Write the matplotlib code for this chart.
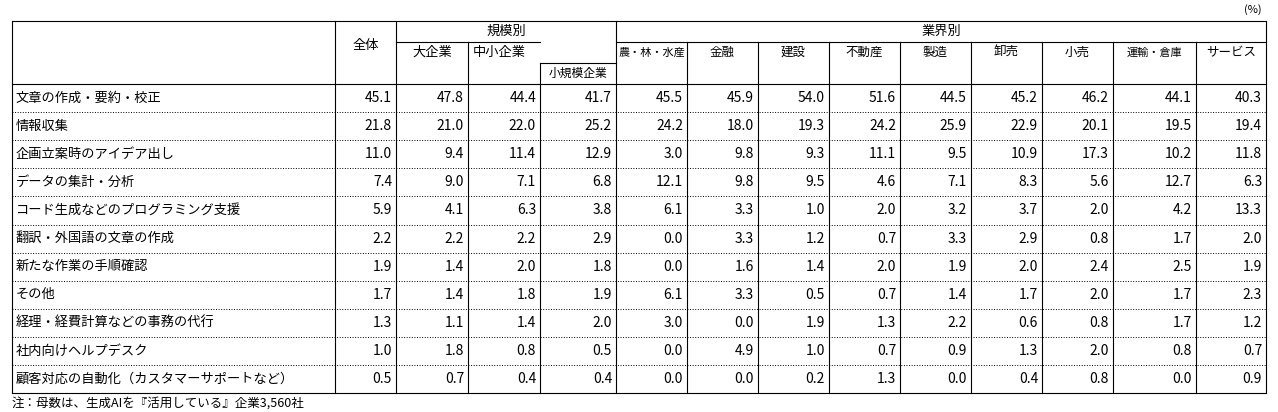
import matplotlib.pyplot as plt

plt.rcParams['font.family'] = ['Noto Sans CJK JP', 'DejaVu Sans']

# data
items = ["文章の作成・要約・校正", "情報収集", "企画立案時のアイデア出し", "データの集計・分析",
         "コード生成などのプログラミング支援", "翻訳・外国語の文章の作成", "新たな作業の手順確認",
         "その他", "経理・経費計算などの事務の代行", "社内向けヘルプデスク",
         "顧客対応の自動化（カスタマーサポートなど）"]
columns = ["全体", "大企業", "中小企業", "小規模企業", "農・林・水産", "金融", "建設", "不動産",
           "製造", "卸売", "小売", "運輸・倉庫", "サービス"]
values = [
    [45.1, 47.8, 44.4, 41.7, 45.5, 45.9, 54.0, 51.6, 44.5, 45.2, 46.2, 44.1, 40.3],
    [21.8, 21.0, 22.0, 25.2, 24.2, 18.0, 19.3, 24.2, 25.9, 22.9, 20.1, 19.5, 19.4],
    [11.0, 9.4, 11.4, 12.9, 3.0, 9.8, 9.3, 11.1, 9.5, 10.9, 17.3, 10.2, 11.8],
    [7.4, 9.0, 7.1, 6.8, 12.1, 9.8, 9.5, 4.6, 7.1, 8.3, 5.6, 12.7, 6.3],
    [5.9, 4.1, 6.3, 3.8, 6.1, 3.3, 1.0, 2.0, 3.2, 3.7, 2.0, 4.2, 13.3],
    [2.2, 2.2, 2.2, 2.9, 0.0, 3.3, 1.2, 0.7, 3.3, 2.9, 0.8, 1.7, 2.0],
    [1.9, 1.4, 2.0, 1.8, 0.0, 1.6, 1.4, 2.0, 1.9, 2.0, 2.4, 2.5, 1.9],
    [1.7, 1.4, 1.8, 1.9, 6.1, 3.3, 0.5, 0.7, 1.4, 1.7, 2.0, 1.7, 2.3],
    [1.3, 1.1, 1.4, 2.0, 3.0, 0.0, 1.9, 1.3, 2.2, 0.6, 0.8, 1.7, 1.2],
    [1.0, 1.8, 0.8, 0.5, 0.0, 4.9, 1.0, 0.7, 0.9, 1.3, 2.0, 0.8, 0.7],
    [0.5, 0.7, 0.4, 0.4, 0.0, 0.0, 0.2, 1.3, 0.0, 0.4, 0.8, 0.0, 0.9],
]

# layout in pixels
edges = [12, 335, 396, 468, 540, 616, 687, 758, 829, 900, 971, 1042, 1113, 1196, 1266]
top, h1, h2, hb = 21, 42, 63, 84
rh = 28.1
bottom = hb + rh * len(items)
fs = 9.5

fig = plt.figure(figsize=(12.78, 4.12), dpi=100)
ax = fig.add_axes([0, 0, 1, 1])
ax.set_xlim(0, 1278)
ax.set_ylim(412, 0)
ax.axis('off')

def hline(x0, x1, y, ls='-'):
    ax.plot([x0, x1], [y, y], color='black', lw=0.8 if ls == '-' else 0.7, ls=ls)

def vline(x, y0, y1):
    ax.plot([x, x], [y0, y1], color='black', lw=0.8)

# outer box and header lines
hline(edges[0], edges[-1], top)
hline(edges[0], edges[-1], hb)
hline(edges[0], edges[-1], bottom)
hline(edges[2], edges[4], h1)
hline(edges[5], edges[-1], h1)
hline(edges[4], edges[5], h2)
for i in range(1, len(items)):
    hline(edges[0], edges[-1], hb + rh * i, ls=':')

vline(edges[0], top, bottom)
vline(edges[-1], top, bottom)
vline(edges[1], top, bottom)
vline(edges[2], top, bottom)
vline(edges[5], top, bottom)
vline(edges[3], h1, bottom)
vline(edges[4], h2, bottom)
for x in edges[6:-1]:
    vline(x, h1, bottom)

# header text
ax.text((edges[1] + edges[2]) / 2, 45, columns[0], ha='center', va='center', fontsize=fs)
ax.text((edges[2] + edges[5]) / 2, (top + h1) / 2, "規模別", ha='center', va='center', fontsize=fs)
ax.text((edges[5] + edges[-1]) / 2, (top + h1) / 2, "業界別", ha='center', va='center', fontsize=fs)
ax.text((edges[2] + edges[3]) / 2, (h1 + h2) / 2, columns[1], ha='center', va='center', fontsize=fs)
ax.text(edges[3] + 5, (h1 + h2) / 2, columns[2], ha='left', va='center', fontsize=fs)
ax.text((edges[4] + edges[5]) / 2, (h2 + hb) / 2, columns[3], ha='center', va='center', fontsize=fs - 1)
for j in range(4, len(columns)):
    size = fs - 1.5 if len(columns[j]) > 4 else fs - 0.5
    ax.text((edges[j + 1] + edges[j + 2]) / 2, (h1 + h2) / 2, columns[j],
            ha='center', va='center', fontsize=size)

# body
for i, (name, row) in enumerate(zip(items, values)):
    y = hb + rh * (i + 0.5)
    ax.text(edges[0] + 4, y, name, ha='left', va='center', fontsize=fs)
    for j, v in enumerate(row):
        ax.text(edges[j + 2] - 4, y, f"{v:.1f}", ha='right', va='center', fontsize=fs + 0.5)

ax.text(1262, 10, "(%)", ha='right', va='center', fontsize=fs - 1.5)
ax.text(edges[0], 403, "注：母数は、生成AIを『活用している』企業3,560社", ha='left', va='center', fontsize=fs - 0.5)

fig.savefig("out.png", dpi=100)
